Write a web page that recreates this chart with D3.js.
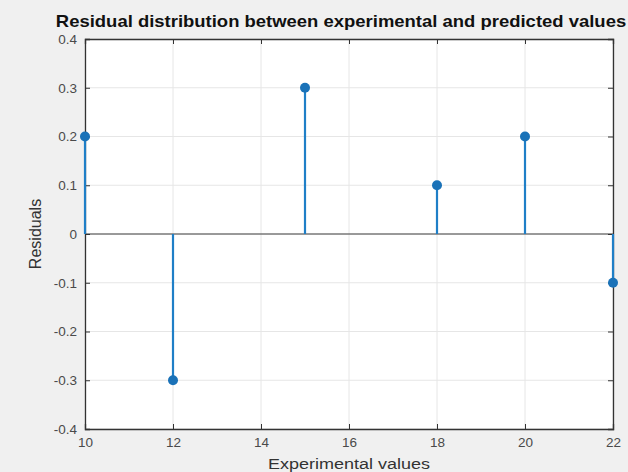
<!DOCTYPE html>
<html>
<head>
<meta charset="utf-8">
<script src="https://cdn.jsdelivr.net/npm/d3@7"></script>
<style>
  body { margin: 0; background: #f0f0f0; overflow: hidden; }
  svg { display: block; font-family: "Liberation Sans", Arial, sans-serif; }
</style>
</head>
<body>
<div id="chart"></div>
<script>
// data
const xValues = [10, 12, 15, 18, 20, 22];
const residuals = [0.2, -0.3, 0.3, 0.1, 0.2, -0.1];
const xTicks = [10, 12, 14, 16, 18, 20, 22];
const yTicks = [-0.4, -0.3, -0.2, -0.1, 0, 0.1, 0.2, 0.3, 0.4];

const w = 628, h = 472;
const padLeft = 85, padRight = 613, padTop = 39, padBottom = 429;

const svg = d3.select("#chart").append("svg")
    .attr("width", w)
    .attr("height", h);

const xScale = d3.scaleLinear().domain([10, 22]).range([padLeft, padRight]);
const yScale = d3.scaleLinear().domain([-0.4, 0.4]).range([padBottom, padTop]);

// plot area
svg.append("rect")
    .attr("x", padLeft).attr("y", padTop)
    .attr("width", padRight - padLeft).attr("height", padBottom - padTop)
    .attr("fill", "#fff");

// grid
svg.append("g").selectAll("line")
    .data(xTicks)
    .enter().append("line")
    .attr("x1", d => xScale(d)).attr("x2", d => xScale(d))
    .attr("y1", padTop).attr("y2", padBottom)
    .attr("stroke", "#e6e6e6").attr("stroke-width", 1);
svg.append("g").selectAll("line")
    .data(yTicks)
    .enter().append("line")
    .attr("x1", padLeft).attr("x2", padRight)
    .attr("y1", d => yScale(d)).attr("y2", d => yScale(d))
    .attr("stroke", "#e6e6e6").attr("stroke-width", 1);

// baseline
svg.append("line")
    .attr("x1", padLeft).attr("x2", padRight)
    .attr("y1", yScale(0)).attr("y2", yScale(0))
    .attr("stroke", "#404040").attr("stroke-width", 1);

// axes (ticks pointing inward), plain hyphen for negatives like MATLAB
const xAxis = d3.axisBottom(xScale).tickValues(xTicks).tickSize(-5).tickPadding(8).tickFormat(d => String(d));
const yAxis = d3.axisLeft(yScale).tickValues(yTicks).tickSize(-5).tickPadding(8).tickFormat(d => d === 0 ? "0" : d.toFixed(1));
const xAxisTop = d3.axisTop(xScale).tickValues(xTicks).tickSize(-5).tickFormat("");
const yAxisRight = d3.axisRight(yScale).tickValues(yTicks).tickSize(-5).tickFormat("");

function styleAxis(g) {
    g.select(".domain").attr("stroke", "#333").attr("stroke-width", 1.3);
    g.selectAll(".tick line").attr("stroke", "#333");
    g.selectAll(".tick text").attr("fill", "#4a4a4a").attr("font-size", 13.5);
}

svg.append("g").attr("transform", `translate(0,${padBottom})`).call(xAxis).call(styleAxis);
svg.append("g").attr("transform", `translate(${padLeft},0)`).call(yAxis).call(styleAxis);
svg.append("g").attr("transform", `translate(0,${padTop})`).call(xAxisTop).call(styleAxis);
svg.append("g").attr("transform", `translate(${padRight},0)`).call(yAxisRight).call(styleAxis);

// stems
const data = xValues.map((x, i) => ({ x: x, y: residuals[i] }));
svg.append("g").selectAll("line")
    .data(data)
    .enter().append("line")
    .attr("x1", d => xScale(d.x)).attr("x2", d => xScale(d.x))
    .attr("y1", yScale(0)).attr("y2", d => yScale(d.y))
    .attr("stroke", "#1f7fc7").attr("stroke-width", 2.2);

svg.append("g").selectAll("circle")
    .data(data)
    .enter().append("circle")
    .attr("cx", d => xScale(d.x)).attr("cy", d => yScale(d.y))
    .attr("r", 5)
    .attr("fill", "#1a72b8");

// labels (source image is stretched sideways, so scale text horizontally)
const midX = (padLeft + padRight) / 2;
svg.append("text")
    .attr("transform", `translate(341,27) scale(1.155,1)`)
    .attr("text-anchor", "middle")
    .attr("font-size", 16).attr("font-weight", "bold")
    .attr("fill", "#111")
    .text("Residual distribution between experimental and predicted values");

svg.append("text")
    .attr("transform", `translate(${midX},469) scale(1.2,1)`)
    .attr("text-anchor", "middle")
    .attr("font-size", 15).attr("fill", "#333")
    .text("Experimental values");

svg.append("text")
    .attr("transform", `translate(41,${yScale(0)}) rotate(-90)`)
    .attr("text-anchor", "middle")
    .attr("font-size", 16).attr("fill", "#333")
    .text("Residuals");
</script>
</body>
</html>
